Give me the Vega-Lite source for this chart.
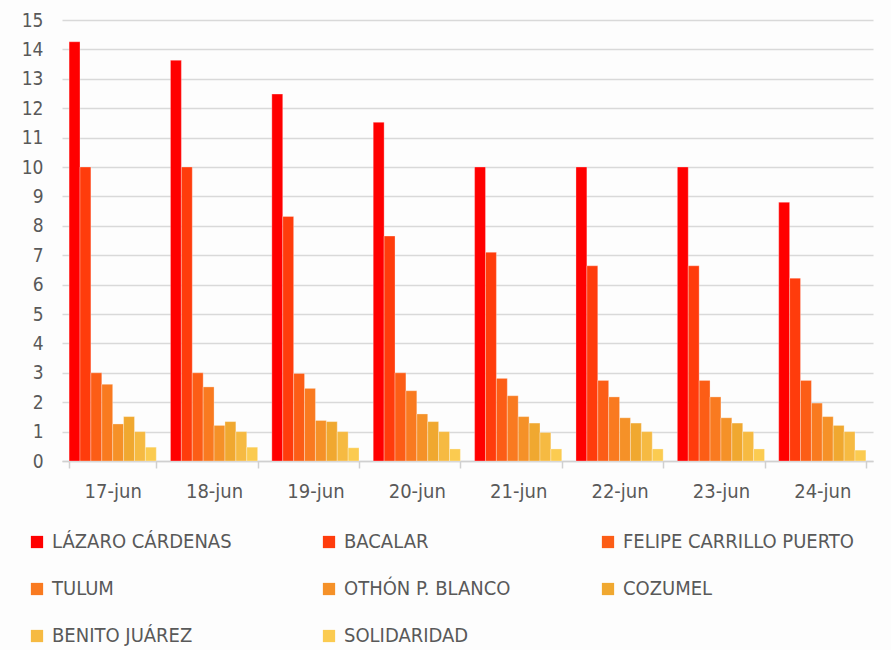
{
  "$schema": "https://vega.github.io/schema/vega-lite/v6.json",
  "width": 811,
  "height": 441,
  "autosize": "none",
  "padding": {"left": 62, "top": 20, "right": 18, "bottom": 189},
  "background": "#fdfdfd",
  "config": {
    "view": {"stroke": null},
    "font": "Liberation Sans Narrow, DejaVu Sans Condensed, sans-serif"
  },
  "data": {
    "values": [
      {"fecha": "17-jun", "municipio": "LÁZARO CÁRDENAS", "valor": 14.26},
      {"fecha": "17-jun", "municipio": "BACALAR", "valor": 10.0},
      {"fecha": "17-jun", "municipio": "FELIPE CARRILLO PUERTO", "valor": 3.0},
      {"fecha": "17-jun", "municipio": "TULUM", "valor": 2.61},
      {"fecha": "17-jun", "municipio": "OTHÓN P. BLANCO", "valor": 1.26},
      {"fecha": "17-jun", "municipio": "COZUMEL", "valor": 1.51},
      {"fecha": "17-jun", "municipio": "BENITO JUÁREZ", "valor": 1.0},
      {"fecha": "17-jun", "municipio": "SOLIDARIDAD", "valor": 0.47},
      {"fecha": "18-jun", "municipio": "LÁZARO CÁRDENAS", "valor": 13.63},
      {"fecha": "18-jun", "municipio": "BACALAR", "valor": 10.0},
      {"fecha": "18-jun", "municipio": "FELIPE CARRILLO PUERTO", "valor": 3.0},
      {"fecha": "18-jun", "municipio": "TULUM", "valor": 2.52},
      {"fecha": "18-jun", "municipio": "OTHÓN P. BLANCO", "valor": 1.21},
      {"fecha": "18-jun", "municipio": "COZUMEL", "valor": 1.34},
      {"fecha": "18-jun", "municipio": "BENITO JUÁREZ", "valor": 1.0},
      {"fecha": "18-jun", "municipio": "SOLIDARIDAD", "valor": 0.47},
      {"fecha": "19-jun", "municipio": "LÁZARO CÁRDENAS", "valor": 12.48},
      {"fecha": "19-jun", "municipio": "BACALAR", "valor": 8.32},
      {"fecha": "19-jun", "municipio": "FELIPE CARRILLO PUERTO", "valor": 2.98},
      {"fecha": "19-jun", "municipio": "TULUM", "valor": 2.47},
      {"fecha": "19-jun", "municipio": "OTHÓN P. BLANCO", "valor": 1.38},
      {"fecha": "19-jun", "municipio": "COZUMEL", "valor": 1.34},
      {"fecha": "19-jun", "municipio": "BENITO JUÁREZ", "valor": 1.0},
      {"fecha": "19-jun", "municipio": "SOLIDARIDAD", "valor": 0.45},
      {"fecha": "20-jun", "municipio": "LÁZARO CÁRDENAS", "valor": 11.52},
      {"fecha": "20-jun", "municipio": "BACALAR", "valor": 7.65},
      {"fecha": "20-jun", "municipio": "FELIPE CARRILLO PUERTO", "valor": 3.0},
      {"fecha": "20-jun", "municipio": "TULUM", "valor": 2.39},
      {"fecha": "20-jun", "municipio": "OTHÓN P. BLANCO", "valor": 1.6},
      {"fecha": "20-jun", "municipio": "COZUMEL", "valor": 1.34},
      {"fecha": "20-jun", "municipio": "BENITO JUÁREZ", "valor": 1.0},
      {"fecha": "20-jun", "municipio": "SOLIDARIDAD", "valor": 0.41},
      {"fecha": "21-jun", "municipio": "LÁZARO CÁRDENAS", "valor": 10.0},
      {"fecha": "21-jun", "municipio": "BACALAR", "valor": 7.1},
      {"fecha": "21-jun", "municipio": "FELIPE CARRILLO PUERTO", "valor": 2.81},
      {"fecha": "21-jun", "municipio": "TULUM", "valor": 2.22},
      {"fecha": "21-jun", "municipio": "OTHÓN P. BLANCO", "valor": 1.51},
      {"fecha": "21-jun", "municipio": "COZUMEL", "valor": 1.29},
      {"fecha": "21-jun", "municipio": "BENITO JUÁREZ", "valor": 0.97},
      {"fecha": "21-jun", "municipio": "SOLIDARIDAD", "valor": 0.41},
      {"fecha": "22-jun", "municipio": "LÁZARO CÁRDENAS", "valor": 10.0},
      {"fecha": "22-jun", "municipio": "BACALAR", "valor": 6.64},
      {"fecha": "22-jun", "municipio": "FELIPE CARRILLO PUERTO", "valor": 2.74},
      {"fecha": "22-jun", "municipio": "TULUM", "valor": 2.18},
      {"fecha": "22-jun", "municipio": "OTHÓN P. BLANCO", "valor": 1.47},
      {"fecha": "22-jun", "municipio": "COZUMEL", "valor": 1.29},
      {"fecha": "22-jun", "municipio": "BENITO JUÁREZ", "valor": 1.0},
      {"fecha": "22-jun", "municipio": "SOLIDARIDAD", "valor": 0.41},
      {"fecha": "23-jun", "municipio": "LÁZARO CÁRDENAS", "valor": 10.0},
      {"fecha": "23-jun", "municipio": "BACALAR", "valor": 6.64},
      {"fecha": "23-jun", "municipio": "FELIPE CARRILLO PUERTO", "valor": 2.74},
      {"fecha": "23-jun", "municipio": "TULUM", "valor": 2.18},
      {"fecha": "23-jun", "municipio": "OTHÓN P. BLANCO", "valor": 1.47},
      {"fecha": "23-jun", "municipio": "COZUMEL", "valor": 1.29},
      {"fecha": "23-jun", "municipio": "BENITO JUÁREZ", "valor": 1.0},
      {"fecha": "23-jun", "municipio": "SOLIDARIDAD", "valor": 0.41},
      {"fecha": "24-jun", "municipio": "LÁZARO CÁRDENAS", "valor": 8.8},
      {"fecha": "24-jun", "municipio": "BACALAR", "valor": 6.22},
      {"fecha": "24-jun", "municipio": "FELIPE CARRILLO PUERTO", "valor": 2.74},
      {"fecha": "24-jun", "municipio": "TULUM", "valor": 1.97},
      {"fecha": "24-jun", "municipio": "OTHÓN P. BLANCO", "valor": 1.51},
      {"fecha": "24-jun", "municipio": "COZUMEL", "valor": 1.21},
      {"fecha": "24-jun", "municipio": "BENITO JUÁREZ", "valor": 1.0},
      {"fecha": "24-jun", "municipio": "SOLIDARIDAD", "valor": 0.37}
    ]
  },
  "mark": {"type": "bar", "stroke": "#ffffff", "strokeOpacity": 0.5, "strokeWidth": 0.6},
  "encoding": {
    "x": {
      "field": "fecha",
      "type": "nominal",
      "sort": null,
      "scale": {"paddingInner": 0.14, "paddingOuter": 0.07},
      "axis": {
        "title": null,
        "labelAngle": 0,
        "labelFontSize": 20,
        "labelColor": "#595959",
        "labelPadding": 13,
        "domainColor": "#d0d0d0",
        "domainWidth": 1.5,
        "tickColor": "#d0d0d0",
        "tickWidth": 1.5,
        "tickSize": 7,
        "tickBand": "extent",
        "grid": false
      }
    },
    "xOffset": {
      "field": "municipio",
      "type": "nominal",
      "sort": ["LÁZARO CÁRDENAS", "BACALAR", "FELIPE CARRILLO PUERTO", "TULUM", "OTHÓN P. BLANCO", "COZUMEL", "BENITO JUÁREZ", "SOLIDARIDAD"],
      "scale": {"paddingInner": 0, "paddingOuter": 0}
    },
    "y": {
      "field": "valor",
      "type": "quantitative",
      "scale": {"domain": [0, 15], "nice": false},
      "axis": {
        "title": null,
        "values": [0, 1, 2, 3, 4, 5, 6, 7, 8, 9, 10, 11, 12, 13, 14, 15],
        "labelOverlap": false,
        "labelFontSize": 19,
        "labelColor": "#595959",
        "labelPadding": 19,
        "domain": false,
        "ticks": false,
        "gridColor": "#d9d9d9",
        "gridWidth": 1.5
      }
    },
    "color": {
      "field": "municipio",
      "type": "nominal",
      "sort": ["LÁZARO CÁRDENAS", "BACALAR", "FELIPE CARRILLO PUERTO", "TULUM", "OTHÓN P. BLANCO", "COZUMEL", "BENITO JUÁREZ", "SOLIDARIDAD"],
      "scale": {
        "domain": ["LÁZARO CÁRDENAS", "BACALAR", "FELIPE CARRILLO PUERTO", "TULUM", "OTHÓN P. BLANCO", "COZUMEL", "BENITO JUÁREZ", "SOLIDARIDAD"],
        "range": ["#ff0000", "#ff3c0c", "#fc5d16", "#f97a20", "#f59128", "#f0a830", "#f6ba42", "#fbcb50"]
      },
      "legend": {
        "title": null,
        "orient": "none",
        "legendX": -35,
        "legendY": 512,
        "direction": "horizontal",
        "columns": 3,
        "gridAlign": "each",
        "columnPadding": 87,
        "rowPadding": 27,
        "symbolType": "square",
        "symbolSize": 150,
        "symbolStrokeWidth": 0,
        "labelFontSize": 20,
        "labelColor": "#595959",
        "labelOffset": 5,
        "labelLimit": 400
      }
    }
  }
}
